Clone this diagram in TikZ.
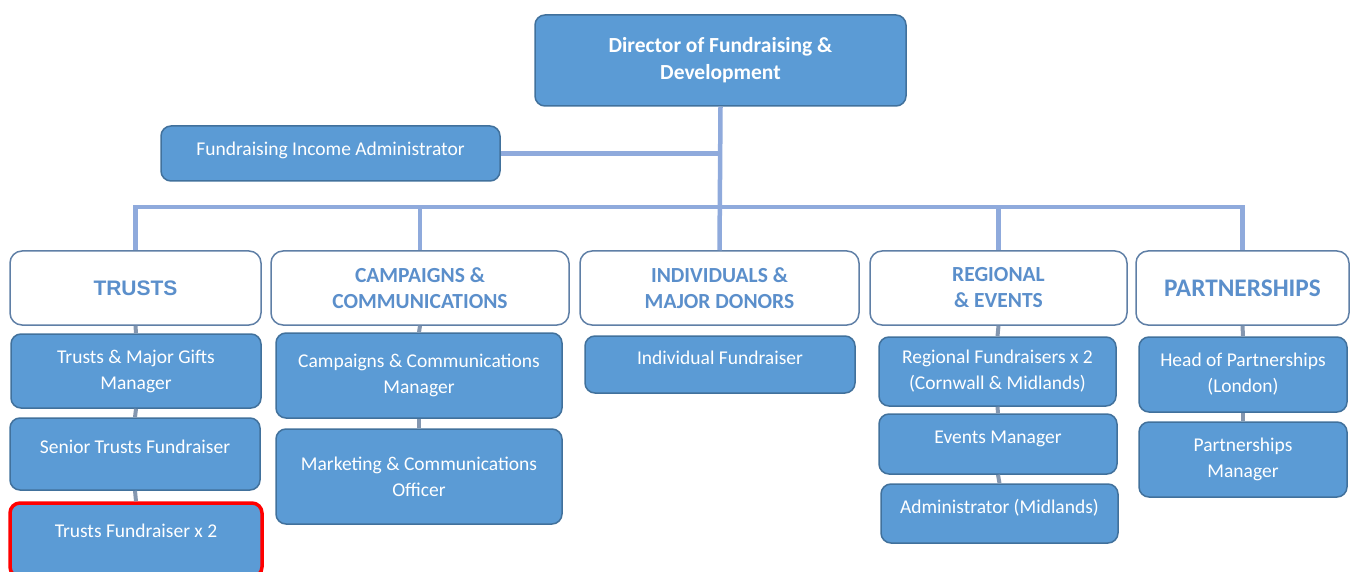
\documentclass[tikz,border=0pt]{standalone}
\usepackage{fontspec}
\setmainfont{Carlito}
\newfontfamily\arialfont{Liberation Sans}
\usetikzlibrary{positioning}
\definecolor{boxfill}{HTML}{5B9BD5}
\definecolor{boxline}{HTML}{41719C}
\definecolor{headline}{HTML}{5F7FA6}
\definecolor{headtext}{HTML}{5B8FCB}
\definecolor{busline}{HTML}{8FAADC}
\definecolor{stemline}{HTML}{8497B0}

\begin{document}
\begin{tikzpicture}[x=1pt, y=-1pt,
    staff/.style={draw=boxline, line width=1.5pt, fill=boxfill, rounded corners=10pt, text=white, align=center, inner sep=2pt, font=\fontsize{19.5}{26}\selectfont},
    head/.style={draw=headline, line width=1.5pt, fill=white, rounded corners=12pt, text=headtext, align=center, minimum height=74pt, font=\fontsize{21.5}{26}\selectfont\bfseries},
    lift/.style={text height=12pt, text depth=#1},
    bus/.style={draw=busline, line width=4.5pt},
    stem/.style={draw=stemline, line width=4pt}]
    \useasboundingbox (0,0) rectangle (1355,572);

    \node[staff, minimum width=371pt, minimum height=91pt, font=\fontsize{21.5}{27}\selectfont\bfseries] (dir) at (720.5,60.5) {Director of Fundraising \&\\Development};
    \node[staff, minimum width=339pt, minimum height=55pt, lift=8.4pt] (admin) at (330.5,153.5) {Fundraising Income Administrator};

    \node[head, minimum width=251pt, font=\fontsize{21}{26}\selectfont\arialfont\bfseries] (trusts) at (135.5,288) {TRUSTS};
    \node[head, minimum width=298pt] (camp) at (420,288) {CAMPAIGNS \&\\COMMUNICATIONS};
    \node[head, minimum width=279pt] (indiv) at (719.5,288) {INDIVIDUALS \&\\MAJOR DONORS};
    \node[head, minimum width=257pt] (reg) at (998.5,288) {REGIONAL\\\& EVENTS};
    \node[head, minimum width=213pt, font=\fontsize{25.3}{26}\selectfont\bfseries] (part) at (1242.5,288) {PARTNERSHIPS};

    \node[staff, minimum width=250pt, minimum height=74pt] (tmgm) at (136,371) {Trusts \& Major Gifts\\Manager};
    \node[staff, minimum width=250pt, minimum height=72pt, lift=13.4pt] (stf) at (135,454) {Senior Trusts Fundraiser};
    \node[staff, draw=red, line width=3.5pt, minimum width=252pt, minimum height=74pt, lift=17.4pt] (tfr) at (136,540) {Trusts Fundraiser x 2};

    \node[staff, minimum width=286pt, minimum height=85pt] (ccm) at (419,375.5) {Campaigns \& Communications\\Manager};
    \node[staff, minimum width=286pt, minimum height=95pt] (mco) at (419,476.5) {Marketing \& Communications\\Officer};

    \node[staff, minimum width=270pt, minimum height=57pt, lift=12.4pt] (ifr) at (720,364.5) {Individual Fundraiser};

    \node[staff, minimum width=237pt, minimum height=69pt] (rfr) at (997.5,371.5) {Regional Fundraisers x 2\\(Cornwall \& Midlands)};
    \node[staff, minimum width=238pt, minimum height=60pt, lift=13.4pt] (evm) at (998,444) {Events Manager};
    \node[staff, minimum width=237pt, minimum height=59pt, lift=12.4pt] (adm) at (999.5,513.5) {Administrator (Midlands)};

    \node[staff, minimum width=208pt, minimum height=75pt] (hop) at (1243,374.5) {Head of Partnerships\\(London)};
    \node[staff, minimum width=208pt, minimum height=75pt] (ptm) at (1243,459.5) {Partnerships\\Manager};

    \coordinate (hub) at (720,207);
    \draw[bus] (dir.south) -- (indiv.north);
    \draw[bus] (admin.east) -- (admin.east -| dir.south);
    \draw[bus] (trusts.north) |- (hub) -| (part.north);
    \draw[bus] (camp.north) -- (camp.north |- hub);
    \draw[bus] (reg.north) -- (reg.north |- hub);

    \draw[stem] (trusts.south) -- (tmgm.north);
    \draw[stem] (tmgm.south) -- (stf.north);
    \draw[stem] (stf.south) -- (tfr.north);
    \draw[stem] (camp.south) -- (ccm.north);
    \draw[stem] (ccm.south) -- (mco.north);
    \draw[stem] (reg.south) -- (rfr.north);
    \draw[stem] (rfr.south) -- (evm.north);
    \draw[stem] (evm.south) -- (adm.north);
    \draw[stem] (part.south) -- (hop.north);
    \draw[stem] (hop.south) -- (ptm.north);
\end{tikzpicture}
\end{document}
